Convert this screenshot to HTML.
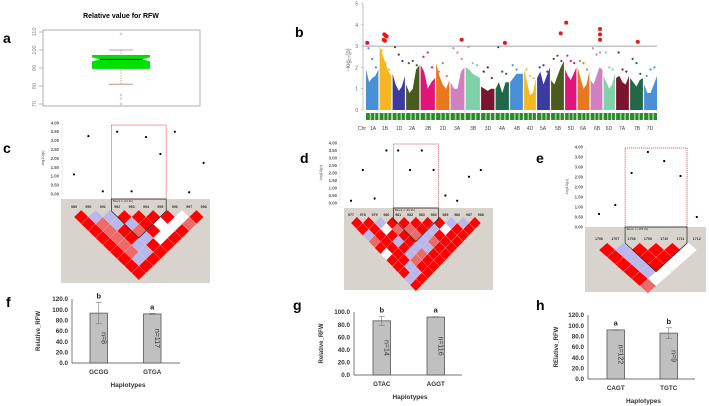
<!DOCTYPE html>
<html><head><meta charset="utf-8"><style>
html,body{margin:0;padding:0;background:#fff}
svg{display:block;font-family:"Liberation Sans",sans-serif}
</style></head><body>
<svg id="fig" width="709" height="406" viewBox="0 0 709 406" xmlns="http://www.w3.org/2000/svg">
<g font-weight="bold" font-size="14" fill="#000">
<text x="3" y="43">a</text>
<text x="295" y="37">b</text>
<text x="3" y="153">c</text>
<text x="300" y="163">d</text>
<text x="536" y="163">e</text>
<text x="6" y="307">f</text>
<text x="293" y="310">g</text>
<text x="536" y="310">h</text>
</g>
<g id="pa"></g>
<g id="pb"></g>
<g id="pc"></g>
<g id="pd"></g>
<g id="pe"></g>
<g id="pf"></g>
<g id="pg"></g>
<g id="ph"></g>
</svg>
<script>
// ---- panel a data
const boxStats = [81, 89.5, 94.8, 97.2, 100]; // min, q1, median, q3, max
const boxOutliers = [109, 75, 73, 70];
const boxTicks = [70, 80, 90, 100, 110];
// ---- panel b data
const chroms = ['1A','1B','1D','2A','2B','2D','3A','3B','3D','4A','4B','4D','5A','5B','5D','6A','6B','6D','7A','7B','7D'];
const chromColors = ['#4a90d9','#f5b820','#3a3aa0','#4a5a20','#e0147a','#e87820','#d080c0','#80d0a8','#7a1530','#206848','#4a90d9','#f5b820','#3a3aa0','#4a5a20','#e0147a','#e87820','#d080c0','#80d0a8','#7a1530','#206848','#4a90d9'];
const chromProfile = [[1.9,1.3,1.5,1.6,1.9],[3,2.6,2.2,1.8,1.6],[1.7,1.2,0.9,1.1,1.6],[1.2,0.8,1.0,1.9,2.1],[2.1,1.8,1.0,1.3,1.5],[2.2,1.6,1.2,1.0,1.4],[1.3,1.0,1.0,1.8,2.0],[2.0,1.9,1.7,1.6,1.5],[1.1,1.0,0.9,1.0,1.0],[1.0,1.3,0.8,1.3,1.3],[1.3,1.5,1.7,1.7,1.7],[1.9,1.3,0.7,0.8,1.5],[1.5,1.8,1.2,1.6,2.0],[1.4,1.2,1.6,2.0,2.3],[1.9,1.6,1.4,1.7,2.0],[2.0,1.5,1.0,1.2,1.8],[1.4,1.2,1.6,2.0,1.9],[1.6,1.3,1.0,1.2,1.7],[1.5,1.6,1.3,1.2,1.6],[1.5,1.3,1.1,1.4,1.5],[1.2,0.8,0.8,1.2,1.6]];
const chromScatter = [[2.9,2.4,2.0],[2.8,2.2,1.9],[2.95,2.6,2.3],[2.2,2.3,2.1],[2.5,2.7,2.0],[1.8,2.2,1.6],[2.9,2.7,2.4],[2.95,2.2,2.1],[1.8,2.0,1.5],[2.95,1.8,1.7],[2.1,1.9,1.6],[1.9,1.6,1.5],[2.0,2.1,1.8],[2.4,2.55,2.3],[2.55,2.3,2.2],[2.3,2.2,1.9],[2.9,2.6,2.7],[2.7,2.0,1.9],[2.7,1.9,1.8],[2.4,2.2,1.7],[1.6,1.9,2.0]];
const sigChrom = [0,1,1,1,1,1,6,9,13,14,16,16,16,19];
const sigValue = [3.15,3.55,3.5,3.45,3.3,3.25,3.3,3.15,3.6,4.1,3.8,3.55,3.3,3.2];
const sigPos = [0.1,0.4,0.5,0.6,0.35,0.45,0.8,0.7,0.75,0.1,0.8,0.8,0.8,0.6];
const manTicks = [0,1,2,3,4,5];
const threshold = 3;
// ---- panel c/d/e data
const cVals = [1.1,3.25,0.15,3.5,0.15,3.2,2.25,3.5,0.1,1.75];
const cNames = ['989','990','991','992','993','994','995','996','997','998'];
const cLD = ['RBBRRRRWR','RPBBRWWP','RPRPRWR','RPRBWR','RPBRR','RPBR','RBR','RR','R'];
const dVals = [0.15,2.2,0.3,3.5,3.5,2.2,3.5,2.2,0.5,0.15,1.75,2.2];
const dNames = ['977','978','979','980','981','982','983','984','985','986','987','988'];
const dLD = ['RRBRRRRRBBR','RRWPPRBWRR','BRRRPBRRR','PRBRBPRR','RRRBBRR','WRBPRR','RRPRR','RBRR','RBR','BR','R'];
const eVals = [0.65,1.1,2.7,3.75,3.3,2.55,0.5];
const eNames = ['1706','1707','1708','1709','1710','1711','1712'];
const eLD = ['RBRRRW','RBRRW','RBRW','RBW','RW','P'];
const ldTicks = [0,0.5,1,1.5,2,2.5,3,3.5,4];
// ---- bar data
const fCats = ['GCGG','GTGA'], fVals = [93.5,92], fErr = [20,1], fN = ['n=8','n=117'], fLetters = ['b','a'], fTicks = [0,20,40,60,80,100,120];
const gCats = ['GTAC','AGGT'], gVals = [86,92], gErr = [7,0.6], gN = ['n=14','n=116'], gLetters = ['b','a'], gTicks = [0,20,40,60,80,100];
const hCats = ['CAGT','TGTC'], hVals = [92,86], hErr = [0.6,10], hN = ['n=122','n=9'], hLetters = ['a','b'], hTicks = [0,20,40,60,80,100,120];

const NS='http://www.w3.org/2000/svg';
function mk(parent, tag, attrs, text){const e=document.createElementNS(NS,tag);for(const k in attrs)e.setAttribute(k,attrs[k]);if(text!==undefined)e.textContent=text;parent.appendChild(e);return e;}

// ---- panel a
(function(){
const g=document.getElementById('pa');
const y=v=>32+(110-v)*1.8;
let t=mk(g,'text',{x:121,y:18,'font-size':7,'font-weight':'bold','text-anchor':'middle'},'Relative value for RFW');

let r=mk(g,'rect',{x:43,y:30,width:157,height:76,fill:'none',stroke:'#999','stroke-width':0.8});

boxTicks.forEach(v=>{mk(g,'line',{x1:39,x2:43,y1:y(v),y2:y(v),stroke:'#999','stroke-width':0.6});
 let tt=mk(g,'text',{x:36,y:y(v),'font-size':5.5,fill:'#888','text-anchor':'middle',transform:`rotate(-90 36 ${y(v)})`},String(v));
 });
const cx=121;
mk(g,'line',{x1:cx,x2:cx,y1:y(boxStats[4]),y2:y(boxStats[0]),stroke:'#b08080','stroke-width':0.6,'stroke-dasharray':'1.5,1'});
mk(g,'line',{x1:cx-12,x2:cx+12,y1:y(boxStats[4]),y2:y(boxStats[4]),stroke:'#b08080','stroke-width':0.8});
mk(g,'line',{x1:cx-12,x2:cx+12,y1:y(boxStats[0]),y2:y(boxStats[0]),stroke:'#b08080','stroke-width':0.8});
const L=92,R=150,n=8;
let b=mk(g,'polygon',{points:`${L},${y(boxStats[3])} ${R},${y(boxStats[3])} ${R},${y(boxStats[2])-2} ${R-n},${y(boxStats[2])} ${R},${y(boxStats[2])+2} ${R},${y(boxStats[1])} ${L},${y(boxStats[1])} ${L},${y(boxStats[2])+2} ${L+n},${y(boxStats[2])} ${L},${y(boxStats[2])-2}`,fill:'#00e000'});

mk(g,'line',{x1:L+n,x2:R-n,y1:y(boxStats[2]),y2:y(boxStats[2]),stroke:'#000','stroke-width':1});
boxOutliers.forEach(v=>{let c=mk(g,'circle',{cx:cx,cy:y(v),r:1,fill:'none',stroke:'#aaa','stroke-width':0.5});});
})();

// ---- panel b
(function(){
const g=document.getElementById('pb');
const y=v=>110-21.3*v;
const centers=[373,385,399,412,428,443,457,473,488,502,517,530,543,558,571,583,597,609,622,637,650];
const bounds=centers.map((c,i)=>[i?(centers[i-1]+c)/2+0.6:366,i<centers.length-1?(c+centers[i+1])/2-0.6:657]);
mk(g,'line',{x1:363,x2:363,y1:y(5),y2:y(0),stroke:'#999','stroke-width':0.6});
manTicks.forEach(v=>{mk(g,'line',{x1:361,x2:363,y1:y(v),y2:y(v),stroke:'#999','stroke-width':0.5});
 let t=mk(g,'text',{x:358,y:y(v)+2,'font-size':5,fill:'#666','text-anchor':'end'},String(v));});
let yt=mk(g,'text',{x:350,y:60,'font-size':6,fill:'#666','text-anchor':'middle',transform:'rotate(-90 350 60)'},'−log₁₀(p)');

chroms.forEach((c,i)=>{
 const [a,b]=bounds[i],w=b-a,prof=chromProfile[i];
 let pts=`${a},${y(0)} `+prof.map((v,k)=>`${a+w*k/(prof.length-1)},${y(v)}`).join(' ')+` ${b},${y(0)}`;
 let p=mk(g,'polygon',{points:pts,fill:chromColors[i]});
 chromScatter[i].forEach((v,k)=>{let s=mk(g,'circle',{cx:a+w*(0.2+0.3*k),cy:y(v),r:1.1,fill:chromColors[i]});});
 let st=mk(g,'rect',{x:a,y:113,width:w,height:7,fill:'#2a8a2a'});
 mk(g,'rect',{x:a+w*0.3,y:113,width:w*0.12,height:7,fill:'#9acd90'});
 mk(g,'rect',{x:a+w*0.65,y:113,width:w*0.1,height:7,fill:'#b8dcb0'});
 let lb=mk(g,'text',{x:centers[i],y:130,'font-size':5,fill:'#444','text-anchor':'middle'},c);
});
let ch=mk(g,'text',{x:362,y:130,'font-size':5,fill:'#444','text-anchor':'middle'},'Chr');
let th=mk(g,'line',{x1:363,x2:657,y1:y(threshold),y2:y(threshold),stroke:'#888','stroke-width':0.7});
sigValue.forEach((v,k)=>{const [a,b]=bounds[sigChrom[k]];let s=mk(g,'circle',{cx:a+(b-a)*sigPos[k],cy:y(v),r:2,fill:'#e81818'});});
})();

// ---- LD panels
const ldColor={R:'#ff0000',B:'#b8b8ec',W:'#ffffff',P:'#ec6a6a'};
function ldPanel(id,vals,names,ld,o){
 const g=document.getElementById(id);
 const y=v=>o.y0-v*o.ppu;
 const x=i=>o.x0+i*o.step;
 mk(g,'line',{x1:o.ax,x2:o.ax,y1:y(4),y2:y(0),stroke:'#ddd','stroke-width':0.6});
 ldTicks.forEach(v=>{let t=mk(g,'text',{x:o.ax-3,y:y(v)+1.5,'font-size':4.3,'font-weight':'bold',fill:'#555','text-anchor':'end'},v.toFixed(2));});
 let yt=mk(g,'text',{x:o.ax-18,y:y(2),'font-size':4,fill:'#555','text-anchor':'middle',transform:`rotate(-90 ${o.ax-18} ${y(2)})`},'-log10(p)');
 let bg=mk(g,'rect',{x:o.gx,y:o.gy,width:o.gw,height:o.gh,fill:'#d8d3cc'});
 const hw=o.step/2;
 ld.forEach((row,k)=>{for(let i=0;i<row.length;i++){const cx=(x(i)+x(i+k+1))/2,cy=o.ry+k*o.dy;
  let d=mk(g,'polygon',{points:`${cx},${cy-o.dy} ${cx+hw},${cy} ${cx},${cy+o.dy} ${cx-hw},${cy}`,fill:ldColor[row[i]],stroke:'#f4d0d0','stroke-width':0.3});
  }});
 names.forEach((n,i)=>{let t=mk(g,'text',{x:x(i),y:o.ly,'font-size':3.6,'font-weight':'bold',fill:'#333','text-anchor':'middle'},n);});
 vals.forEach((v,i)=>{let c=mk(g,'circle',{cx:x(i),cy:y(v),r:1.1,fill:'#000'});});
 const [b0,b1]=o.block,xl=x(b0)-hw*0.8,xr=x(b1)+hw*0.8;
 let rr=mk(g,'rect',{x:xl,y:o.rt,width:xr-xl,height:o.gy-o.rt,fill:'none',stroke:'#e03030','stroke-width':0.7,'stroke-dasharray':'1.2,0.8'});
 const mx=(xl+xr)/2;
 let bl=mk(g,'polyline',{points:`${xl},${o.ly+3} ${xl},${o.gy} ${xr},${o.gy} ${xr},${o.ly+3} ${mx},${o.ry+(b1-b0)*o.dy}  ${xl},${o.ly+3}`,fill:'none',stroke:'#222','stroke-width':0.7});
 let bt=mk(g,'text',{x:xl+1.5,y:o.gy+3.2,'font-size':3,fill:'#333'},o.blabel);
}
ldPanel('pc',cVals,cNames,cLD,{x0:74,step:14.4,y0:194,ppu:17.8,ax:62,gx:61,gy:199,gw:149,gh:84,ly:208,ry:217,dy:7,block:[3,6],rt:125,blabel:'Block 1 (13 kb)'});
ldPanel('pd',dVals,dNames,dLD,{x0:351,step:11.8,y0:203,ppu:15,ax:340,gx:344,gy:208,gw:149,gh:82,ly:216,ry:223,dy:6.2,block:[4,7],rt:144,blabel:'Block 1 (26 kb)'});
ldPanel('pe',eVals,eNames,eLD,{x0:599,step:16.3,y0:227,ppu:20,ax:586,gx:585,gy:227,gw:121,gh:65,ly:240,ry:250,dy:7.2,block:[2,5],rt:148,blabel:'Block 1 (455 kb)'});

// ---- bar panels
function barPanel(id,cats,vals,err,ns,letters,ticks,o){
 const g=document.getElementById(id);
 const y=v=>o.y0-v*(o.y0-o.yTop)/o.max;
 mk(g,'line',{x1:o.ax,x2:o.ax,y1:y(o.max),y2:o.y0,stroke:'#444','stroke-width':0.7});
 mk(g,'line',{x1:o.ax,x2:o.xEnd,y1:o.y0,y2:o.y0,stroke:'#444','stroke-width':0.7});
 ticks.forEach(v=>{let t=mk(g,'text',{x:o.ax-4,y:y(v)+2.2,'font-size':6.3,'font-weight':'bold',fill:'#333','text-anchor':'end'},v.toFixed(1));});
 let yt=mk(g,'text',{x:o.tx,y:(y(o.max)+o.y0)/2,'font-size':6,'font-weight':'bold',fill:'#333','text-anchor':'middle',transform:`rotate(-90 ${o.tx} ${(y(o.max)+o.y0)/2})`},o.ytitle);
 cats.forEach((c,i)=>{const bx=o.bx[i],w=17.5,cx=bx+w/2;
  let r=mk(g,'rect',{x:bx,y:y(vals[i]),width:w,height:o.y0-y(vals[i]),fill:'#c0c0c0',stroke:'#555','stroke-width':0.8});
  mk(g,'line',{x1:cx,x2:cx,y1:y(vals[i]+err[i]),y2:y(vals[i]-err[i]),stroke:'#777','stroke-width':0.6});
  mk(g,'line',{x1:cx-3,x2:cx+3,y1:y(vals[i]+err[i]),y2:y(vals[i]+err[i]),stroke:'#777','stroke-width':0.6});
  mk(g,'line',{x1:cx-3,x2:cx+3,y1:y(vals[i]-err[i]),y2:y(vals[i]-err[i]),stroke:'#777','stroke-width':0.6});
  const my=(y(vals[i])+o.y0)/2;
  let nt=mk(g,'text',{x:cx+2.5,y:my,'font-size':7,fill:'#333','text-anchor':'middle',transform:`rotate(90 ${cx+2.5} ${my})`},ns[i]);
  let lt=mk(g,'text',{x:cx,y:y(vals[i]+err[i])-4,'font-size':7.5,'font-weight':'bold',fill:'#222','text-anchor':'middle'},letters[i]);
  let ct=mk(g,'text',{x:cx,y:o.y0+11,'font-size':6.3,'font-weight':'bold',fill:'#333','text-anchor':'middle'},c);
 });
 let xt=mk(g,'text',{x:(o.ax+o.xEnd)/2+2,y:o.y0+24,'font-size':6.5,'font-weight':'bold',fill:'#333','text-anchor':'middle'},'Haplotypes');
}
barPanel('pf',fCats,fVals,fErr,fN,fLetters,fTicks,{ax:72,xEnd:180,y0:363,yTop:299,max:120,bx:[90,143.5],tx:40,ytitle:'Relative_RFW'});
barPanel('pg',gCats,gVals,gErr,gN,gLetters,gTicks,{ax:354,xEnd:462,y0:375,yTop:312,max:100,bx:[373,427],tx:323,ytitle:'Relative_RFW'});
barPanel('ph',hCats,hVals,hErr,hN,hLetters,hTicks,{ax:588,xEnd:695,y0:379,yTop:315,max:120,bx:[607,660],tx:558,ytitle:'RElative_RFW'});
</script>
</body></html>
